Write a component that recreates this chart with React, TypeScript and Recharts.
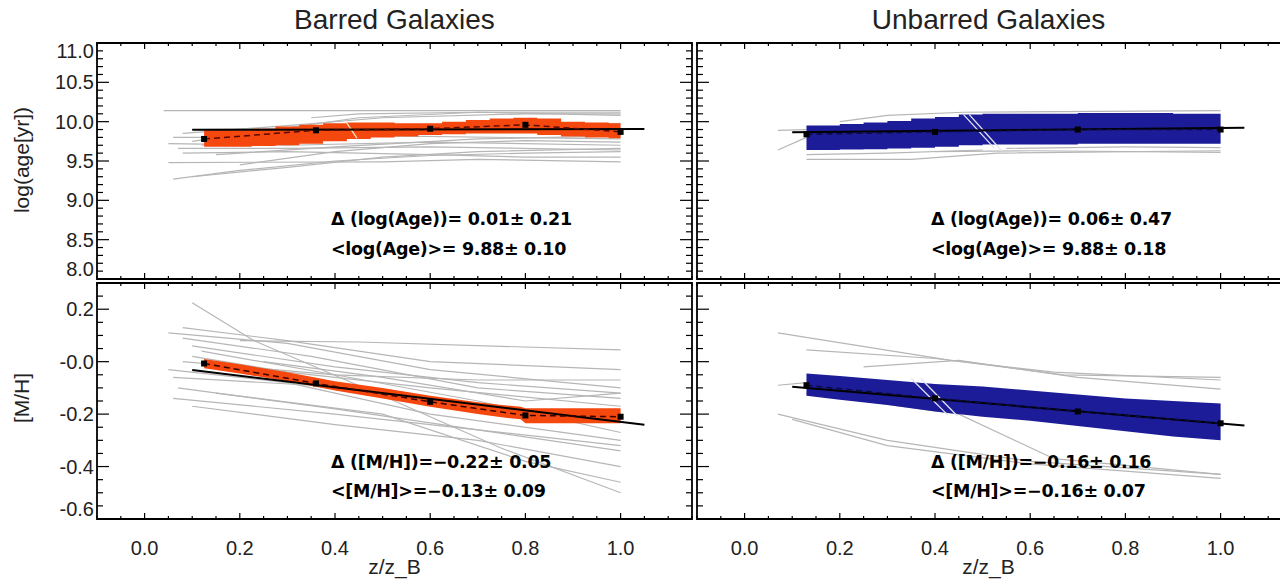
import React from 'react';
import { ComposedChart, Area, Line, XAxis, YAxis, ReferenceArea } from 'recharts';

// ---------- axes ----------
const X_DOMAIN: [number, number] = [-0.1, 1.15];
const AGE_DOMAIN: [number, number] = [8.0, 11.0];
const MH_DOMAIN: [number, number] = [-0.6, 0.3];

const xMajor = [0, 0.2, 0.4, 0.6, 0.8, 1.0];
const xLabels = ['0.0', '0.2', '0.4', '0.6', '0.8', '1.0'];
const ageMajor = [8.0, 8.5, 9.0, 9.5, 10.0, 10.5, 11.0];
const ageLabels = ['8.0', '8.5', '9.0', '9.5', '10.0', '10.5', '11.0'];
const mhMajor = [-0.6, -0.4, -0.2, 0.0, 0.2];
const mhLabels = ['-0.6', '-0.4', '-0.2', '-0.0', '0.2'];

const minorTicks = (lo: number, hi: number, step: number) => {
  const out: number[] = [];
  const n = Math.round((hi - lo) / step);
  for (let i = 0; i <= n; i++) out.push(Math.round((lo + i * step) * 1000) / 1000);
  return out;
};
const xTicks = minorTicks(-0.1, 1.15, 0.05);
const ageTicks = minorTicks(8.0, 11.0, 0.1);
const mhTicks = minorTicks(-0.6, 0.3, 0.05);

// ---------- Barred, log(age) ----------
const barredAgeBandX = [0.125, 0.175, 0.225, 0.275, 0.325, 0.375, 0.425, 0.475, 0.525, 0.575, 0.625, 0.675, 0.725, 0.775, 0.825, 0.875, 0.925, 0.975, 1.0];
const barredAgeBandLo = [9.68, 9.68, 9.69, 9.70, 9.72, 9.75, 9.78, 9.80, 9.81, 9.83, 9.84, 9.85, 9.85, 9.85, 9.83, 9.81, 9.80, 9.79, 9.79];
const barredAgeBandHi = [9.89, 9.89, 9.91, 9.94, 9.96, 9.98, 9.99, 9.99, 9.98, 9.98, 10.0, 10.02, 10.04, 10.05, 10.04, 10.0, 9.99, 9.98, 9.98];
const barredAgeMeanX = [0.125, 0.36, 0.6, 0.8, 1.0];
const barredAgeMeanY = [9.78, 9.89, 9.91, 9.96, 9.87];
const barredAgeFitX = [0.1, 1.05];
const barredAgeFitY = [9.896, 9.906];
const barredAgeGrayX = [
  [0.04, 1.0], [0.06, 0.2, 0.4, 0.6, 0.8, 1.0], [0.1, 0.3, 0.5, 0.7, 1.0], [0.05, 0.5, 0.7, 1.0],
  [0.08, 0.3, 0.6, 0.8, 1.0], [0.05, 0.3, 0.6, 1.0], [0.06, 0.2, 0.5, 1.0], [0.08, 0.3, 0.5, 0.8, 1.0],
  [0.1, 0.25, 0.45, 0.7, 1.0], [0.12, 0.3, 0.5, 0.8, 1.0], [0.2, 0.4, 0.6, 0.8, 1.0], [0.07, 0.3, 0.6, 1.0],
  [0.35, 0.45, 0.7, 1.0], [0.1, 0.4, 0.7, 1.0], [0.15, 0.4, 0.7, 1.0],
];
const barredAgeGrayY = [
  [10.14, 10.14], [9.27, 9.38, 9.5, 9.57, 9.6, 9.62], [9.3, 9.42, 9.55, 9.62, 9.66], [9.48, 9.49, 9.52, 9.49],
  [9.6, 9.62, 9.58, 9.55, 9.55], [9.72, 9.7, 9.74, 9.7], [9.8, 9.8, 9.82, 9.78], [9.85, 9.95, 10.05, 10.1, 10.1],
  [9.75, 9.88, 10.05, 10.12, 10.12], [9.7, 9.78, 9.88, 9.95, 9.98], [9.45, 9.62, 9.72, 9.76, 9.74], [9.66, 9.66, 9.68, 9.64],
  [10.05, 10.1, 10.12, 10.08], [9.9, 9.92, 9.93, 9.9], [9.58, 9.68, 9.78, 9.82],
];
const barredAgeCrossX = [[0.423, 0.446]];
const barredAgeCrossY = [[10.0, 9.79]];

// ---------- Barred, [M/H] ----------
const barredMhBandX = [0.125, 0.2, 0.3, 0.4, 0.5, 0.6, 0.7, 0.75, 0.79, 0.8, 0.9, 1.0];
const barredMhBandLo = [-0.025, -0.045, -0.075, -0.11, -0.14, -0.172, -0.2, -0.212, -0.22, -0.235, -0.235, -0.235];
const barredMhBandHi = [0.01, -0.01, -0.04, -0.075, -0.1, -0.13, -0.155, -0.165, -0.172, -0.178, -0.178, -0.178];
const barredMhMeanX = [0.125, 0.36, 0.6, 0.8, 1.0];
const barredMhMeanY = [-0.007, -0.083, -0.153, -0.205, -0.21];
const barredMhFitX = [0.1, 1.05];
const barredMhFitY = [-0.032, -0.241];
const barredMhGrayX = [
  [0.05, 0.3, 0.6, 1.0], [0.08, 0.3, 0.6, 1.0], [0.08, 0.35, 0.7, 1.0], [0.1, 0.4, 0.7, 1.0],
  [0.05, 0.3, 0.6, 1.0], [0.06, 0.35, 0.7, 1.0], [0.07, 0.4, 0.7, 1.0], [0.06, 0.4, 0.7, 1.0],
  [0.1, 0.4, 0.7, 1.0], [0.15, 0.5, 0.8, 1.0], [0.1, 0.3, 0.6, 1.0], [0.25, 0.5, 0.8, 1.0],
  [0.08, 0.4, 0.7, 1.0], [0.1, 0.23, 0.5, 0.75, 1.0], [0.2, 0.45, 1.0], [0.12, 0.4, 0.7, 1.0],
];
const barredMhGrayY = [
  [0.11, 0.07, -0.03, -0.1], [0.13, 0.08, 0.0, -0.03], [0.09, 0.02, -0.1, -0.14], [0.06, -0.02, -0.08, -0.12],
  [-0.03, -0.08, -0.2, -0.3], [-0.06, -0.09, -0.18, -0.2], [-0.1, -0.18, -0.26, -0.32], [-0.14, -0.2, -0.26, -0.34],
  [-0.17, -0.24, -0.3, -0.4], [-0.12, -0.2, -0.38, -0.46], [0.02, -0.04, -0.1, -0.17], [0.0, -0.06, -0.15, -0.12],
  [0.0, -0.05, -0.07, -0.07], [0.225, 0.08, -0.13, -0.33, -0.5], [0.08, 0.075, 0.045], [0.04, -0.05, -0.15, -0.27],
];

// ---------- Unbarred, log(age) ----------
const unbarredAgeBandX = [0.13, 0.2, 0.25, 0.3, 0.35, 0.4, 0.45, 0.5, 0.6, 0.7, 0.8, 0.9, 1.0];
const unbarredAgeBandLo = [9.64, 9.645, 9.65, 9.66, 9.67, 9.68, 9.70, 9.71, 9.71, 9.72, 9.72, 9.72, 9.72];
const unbarredAgeBandHi = [9.95, 9.97, 9.99, 10.01, 10.04, 10.06, 10.09, 10.1, 10.1, 10.11, 10.11, 10.1, 10.1];
const unbarredAgeMeanX = [0.13, 0.4, 0.7, 1.0];
const unbarredAgeMeanY = [9.84, 9.87, 9.9, 9.9];
const unbarredAgeFitX = [0.1, 1.05];
const unbarredAgeFitY = [9.865, 9.922];
const unbarredAgeGrayX = [
  [0.2, 0.3, 0.46, 1.0], [0.13, 0.35, 0.53, 1.0], [0.4, 0.6, 1.0], [0.55, 0.8, 1.0], [0.07, 0.13], [0.07, 0.13], [0.13, 0.3, 0.5],
];
const unbarredAgeGrayY = [
  [10.0, 10.08, 10.12, 10.14], [9.52, 9.52, 9.6, 9.63], [9.62, 9.63, 9.61], [9.66, 9.68, 9.67], [9.64, 9.8], [9.89, 9.9], [9.58, 9.6, 9.64],
];
const unbarredAgeCrossX = [[0.46, 0.525], [0.472, 0.54]];
const unbarredAgeCrossY = [[10.09, 9.66], [10.09, 9.63]];

// ---------- Unbarred, [M/H] ----------
const unbarredMhBandX = [0.13, 0.2, 0.3, 0.4, 0.5, 0.6, 0.7, 0.8, 0.9, 1.0];
const unbarredMhBandLo = [-0.13, -0.145, -0.165, -0.19, -0.21, -0.225, -0.245, -0.265, -0.285, -0.3];
const unbarredMhBandHi = [-0.045, -0.055, -0.07, -0.085, -0.095, -0.11, -0.125, -0.14, -0.15, -0.16];
const unbarredMhMeanX = [0.13, 0.4, 0.7, 1.0];
const unbarredMhMeanY = [-0.09, -0.14, -0.19, -0.235];
const unbarredMhFitX = [0.1, 1.05];
const unbarredMhFitY = [-0.096, -0.243];
const unbarredMhGrayX = [
  [0.07, 0.43, 0.67, 1.0], [0.13, 0.4, 0.65, 1.0], [0.25, 0.45, 0.7, 1.0], [0.07, 0.3, 0.6, 1.0],
  [0.1, 0.3, 0.6, 1.0], [0.13, 0.45, 0.65, 1.0], [0.07, 0.13],
];
const unbarredMhGrayY = [
  [0.11, 0.006, -0.05, -0.06], [0.045, 0.012, -0.04, -0.07], [-0.02, 0.005, -0.06, -0.105], [-0.2, -0.3, -0.38, -0.43],
  [-0.22, -0.32, -0.39, -0.445], [-0.12, -0.2, -0.37, -0.43], [-0.09, -0.08],
];
const unbarredMhCrossX = [[0.35, 0.427], [0.37, 0.447]];
const unbarredMhCrossY = [[-0.064, -0.204], [-0.064, -0.207]];

// ---------- texts ----------
const titles = ['Barred Galaxies', 'Unbarred Galaxies'];
const yTitles = ['log(age[yr])', '[M/H]'];
const xTitle = 'z/z_B';
const notes = [
  ['Δ (log(Age))= 0.01± 0.21', '<log(Age)>= 9.88± 0.10'],
  ['Δ (log(Age))= 0.06± 0.47', '<log(Age)>= 9.88± 0.18'],
  ['Δ ([M/H])=−0.22± 0.05', '<[M/H]>=−0.13± 0.09'],
  ['Δ ([M/H])=−0.16± 0.16', '<[M/H]>=−0.16± 0.07'],
];

// ---------- helpers ----------
type Pt = { x: number; y: number };
const toPts = (xs: number[], ys: number[]): Pt[] => xs.map((x, i) => ({ x, y: ys[i] }));
const toBand = (xs: number[], lo: number[], hi: number[]) => xs.map((x, i) => ({ x, range: [lo[i], hi[i]] }));

const ORANGE = '#f4480f';
const BLUE = '#1c1c98';
const GRAY = '#b6b6b6';
const TICK_FONT = '"Liberation Sans", Arial, Helvetica, sans-serif';
const TICK_SIZE = 20;

const PLOT_W = 595;
const PLOT_H = 236;

const isMajor = (majors: number[], v: number) => majors.findIndex((m) => Math.abs(m - v) < 1e-6);

const makeXTick = (showLabel: boolean) => (props: any) => {
  const { x, y, payload } = props;
  const mi = isMajor(xMajor, payload.value);
  const len = mi >= 0 ? 6 : 3;
  return (
    <g>
      <line x1={x} x2={x} y1={y} y2={y - len} stroke="#000" strokeWidth={1.2} />
      <line x1={x} x2={x} y1={y - PLOT_H} y2={y - PLOT_H + len} stroke="#000" strokeWidth={1.2} />
      {showLabel && mi >= 0 && (
        <text x={x} y={y + 36} textAnchor="middle" fontSize={TICK_SIZE} fill="#222" fontFamily={TICK_FONT}>
          {xLabels[mi]}
        </text>
      )}
    </g>
  );
};

const makeYTick = (showLabel: boolean, majors: number[], labels: string[], domain: [number, number]) => (props: any) => {
  const { x, y, payload } = props;
  const v = payload.value;
  const mi = isMajor(majors, v);
  const len = mi >= 0 ? 12 : 6;
  let dy = 7;
  if (Math.abs(v - domain[1]) < 1e-6) dy = 15;
  if (Math.abs(v - domain[0]) < 1e-6) dy = -3;
  return (
    <g>
      <line x1={x} x2={x + len} y1={y} y2={y} stroke="#000" strokeWidth={1.2} />
      <line x1={x + PLOT_W} x2={x + PLOT_W - len} y1={y} y2={y} stroke="#000" strokeWidth={1.2} />
      {showLabel && mi >= 0 && (
        <text x={x - 3} y={y + dy} textAnchor="end" fontSize={TICK_SIZE} fill="#222" fontFamily={TICK_FONT}>
          {labels[mi]}
        </text>
      )}
    </g>
  );
};

const squareDot = (p: any) => (
  <rect key={`sq-${p.index}`} x={p.cx - 3} y={p.cy - 3} width={6} height={6} fill="#000" />
);

type PanelProps = {
  left: number;
  top: number;
  yAxisW: number;
  xAxisH: number;
  showY: boolean;
  showX: boolean;
  yDomain: [number, number];
  yMajor: number[];
  yLabels: string[];
  yTicks: number[];
  bandX: number[];
  bandLo: number[];
  bandHi: number[];
  bandColor: string;
  bandType: 'stepAfter' | 'linear';
  grayX: number[][];
  grayY: number[][];
  crossX: number[][];
  crossY: number[][];
  crossColor: string;
  meanX: number[];
  meanY: number[];
  meanColor: string;
  fitX: number[];
  fitY: number[];
};

function Panel(p: PanelProps) {
  const width = p.yAxisW + PLOT_W + 2;
  const height = 2 + PLOT_H + p.xAxisH;
  return (
    <div style={{ position: 'absolute', left: p.left, top: p.top }}>
      <ComposedChart width={width} height={height} margin={{ top: 2, right: 2, left: 0, bottom: 0 }}>
        <XAxis
          type="number"
          dataKey="x"
          domain={X_DOMAIN}
          allowDataOverflow
          ticks={xTicks}
          interval={0}
          tickSize={0}
          tickMargin={0}
          axisLine={false}
          tickLine={false}
          height={p.xAxisH}
          tick={makeXTick(p.showX)}
        />
        <YAxis
          type="number"
          domain={p.yDomain}
          allowDataOverflow
          ticks={p.yTicks}
          interval={0}
          tickSize={0}
          tickMargin={0}
          axisLine={false}
          tickLine={false}
          width={p.yAxisW}
          tick={makeYTick(p.showY, p.yMajor, p.yLabels, p.yDomain)}
        />
        {p.grayX.map((xs, i) => (
          <Line
            key={`g${i}`}
            data={toPts(xs, p.grayY[i])}
            dataKey="y"
            type="linear"
            stroke={GRAY}
            strokeWidth={1.2}
            dot={false}
            activeDot={false}
            isAnimationActive={false}
            zIndex={410}
          />
        ))}
        <Area
          data={toBand(p.bandX, p.bandLo, p.bandHi)}
          dataKey="range"
          type={p.bandType}
          fill={p.bandColor}
          fillOpacity={1}
          stroke="none"
          dot={false}
          activeDot={false}
          isAnimationActive={false}
          zIndex={420}
        />
        {p.crossX.map((xs, i) => (
          <Line
            key={`c${i}`}
            data={toPts(xs, p.crossY[i])}
            dataKey="y"
            type="linear"
            stroke={p.crossColor}
            strokeWidth={1.3}
            dot={false}
            activeDot={false}
            isAnimationActive={false}
            zIndex={430}
          />
        ))}
        <Line
          data={toPts(p.fitX, p.fitY)}
          dataKey="y"
          type="linear"
          stroke="#000"
          strokeWidth={2}
          dot={false}
          activeDot={false}
          isAnimationActive={false}
          zIndex={440}
        />
        <Line
          data={toPts(p.meanX, p.meanY)}
          dataKey="y"
          type="linear"
          stroke={p.meanColor}
          strokeWidth={1.5}
          strokeDasharray="6 4"
          dot={squareDot}
          activeDot={false}
          isAnimationActive={false}
          zIndex={450}
        />
        <ReferenceArea
          x1={X_DOMAIN[0]}
          x2={X_DOMAIN[1]}
          y1={p.yDomain[0]}
          y2={p.yDomain[1]}
          fill="none"
          fillOpacity={0}
          stroke="#000"
          strokeWidth={1.8}
          ifOverflow="visible"
          zIndex={460}
        />
      </ComposedChart>
    </div>
  );
}

const noteStyle = (left: number, top: number): React.CSSProperties => ({
  position: 'absolute',
  left,
  top,
  fontFamily: '"DejaVu Sans", sans-serif',
  fontWeight: 'bold',
  fontSize: 17.5,
  lineHeight: '22px',
  letterSpacing: '-0.3px',
  color: '#000',
  whiteSpace: 'nowrap',
});

const labelStyle: React.CSSProperties = {
  position: 'absolute',
  fontFamily: TICK_FONT,
  color: '#222',
  whiteSpace: 'nowrap',
};

export default function App() {
  const leftX = 0;
  const rightX = 695;
  return (
    <div style={{ position: 'absolute', left: 0, top: 0, width: 1280, height: 580, overflow: 'hidden', background: '#fff' }}>
      <Panel
        left={leftX} top={41} yAxisW={97} xAxisH={2} showY showX={false}
        yDomain={AGE_DOMAIN} yMajor={ageMajor} yLabels={ageLabels} yTicks={ageTicks}
        bandX={barredAgeBandX} bandLo={barredAgeBandLo} bandHi={barredAgeBandHi} bandColor={ORANGE} bandType="stepAfter"
        grayX={barredAgeGrayX} grayY={barredAgeGrayY} crossX={barredAgeCrossX} crossY={barredAgeCrossY} crossColor="#f3e2c4"
        meanX={barredAgeMeanX} meanY={barredAgeMeanY} meanColor="#5a0800" fitX={barredAgeFitX} fitY={barredAgeFitY}
      />
      <Panel
        left={leftX} top={281} yAxisW={97} xAxisH={61} showY showX
        yDomain={MH_DOMAIN} yMajor={mhMajor} yLabels={mhLabels} yTicks={mhTicks}
        bandX={barredMhBandX} bandLo={barredMhBandLo} bandHi={barredMhBandHi} bandColor={ORANGE} bandType="linear"
        grayX={barredMhGrayX} grayY={barredMhGrayY} crossX={[]} crossY={[]} crossColor="#fff"
        meanX={barredMhMeanX} meanY={barredMhMeanY} meanColor="#3a0000" fitX={barredMhFitX} fitY={barredMhFitY}
      />
      <Panel
        left={rightX} top={41} yAxisW={2} xAxisH={2} showY={false} showX={false}
        yDomain={AGE_DOMAIN} yMajor={ageMajor} yLabels={ageLabels} yTicks={ageTicks}
        bandX={unbarredAgeBandX} bandLo={unbarredAgeBandLo} bandHi={unbarredAgeBandHi} bandColor={BLUE} bandType="stepAfter"
        grayX={unbarredAgeGrayX} grayY={unbarredAgeGrayY} crossX={unbarredAgeCrossX} crossY={unbarredAgeCrossY} crossColor="#e4e4ee"
        meanX={unbarredAgeMeanX} meanY={unbarredAgeMeanY} meanColor="#0a0a40" fitX={unbarredAgeFitX} fitY={unbarredAgeFitY}
      />
      <Panel
        left={rightX} top={281} yAxisW={2} xAxisH={61} showY={false} showX
        yDomain={MH_DOMAIN} yMajor={mhMajor} yLabels={mhLabels} yTicks={mhTicks}
        bandX={unbarredMhBandX} bandLo={unbarredMhBandLo} bandHi={unbarredMhBandHi} bandColor={BLUE} bandType="linear"
        grayX={unbarredMhGrayX} grayY={unbarredMhGrayY} crossX={unbarredMhCrossX} crossY={unbarredMhCrossY} crossColor="#e4e4ee"
        meanX={unbarredMhMeanX} meanY={unbarredMhMeanY} meanColor="#0a0a40" fitX={unbarredMhFitX} fitY={unbarredMhFitY}
      />

      {/* titles */}
      <div style={{ ...labelStyle, left: 97, width: PLOT_W, top: 4, textAlign: 'center', fontSize: 28, lineHeight: '32px' }}>{titles[0]}</div>
      <div style={{ ...labelStyle, left: 697, width: PLOT_W - 12, top: 4, textAlign: 'center', fontSize: 28, lineHeight: '32px' }}>{titles[1]}</div>

      {/* y titles */}
      <div style={{ ...labelStyle, left: 22, top: 160, fontSize: 21, lineHeight: '24px', transform: 'translate(-50%, -50%) rotate(-90deg)' }}>{yTitles[0]}</div>
      <div style={{ ...labelStyle, left: 22, top: 398, fontSize: 21, lineHeight: '24px', transform: 'translate(-50%, -50%) rotate(-90deg)' }}>{yTitles[1]}</div>

      {/* x titles */}
      <div style={{ ...labelStyle, left: 97, width: PLOT_W, top: 555, textAlign: 'center', fontSize: 21, lineHeight: '24px' }}>{xTitle}</div>
      <div style={{ ...labelStyle, left: 697, width: PLOT_W - 12, top: 555, textAlign: 'center', fontSize: 21, lineHeight: '24px' }}>{xTitle}</div>

      {/* annotations */}
      <div style={noteStyle(331, 208)}>{notes[0][0]}</div>
      <div style={noteStyle(331, 238)}>{notes[0][1]}</div>
      <div style={noteStyle(931, 208)}>{notes[1][0]}</div>
      <div style={noteStyle(931, 238)}>{notes[1][1]}</div>
      <div style={noteStyle(331, 451)}>{notes[2][0]}</div>
      <div style={noteStyle(331, 480)}>{notes[2][1]}</div>
      <div style={noteStyle(931, 451)}>{notes[3][0]}</div>
      <div style={noteStyle(931, 480)}>{notes[3][1]}</div>
    </div>
  );
}
